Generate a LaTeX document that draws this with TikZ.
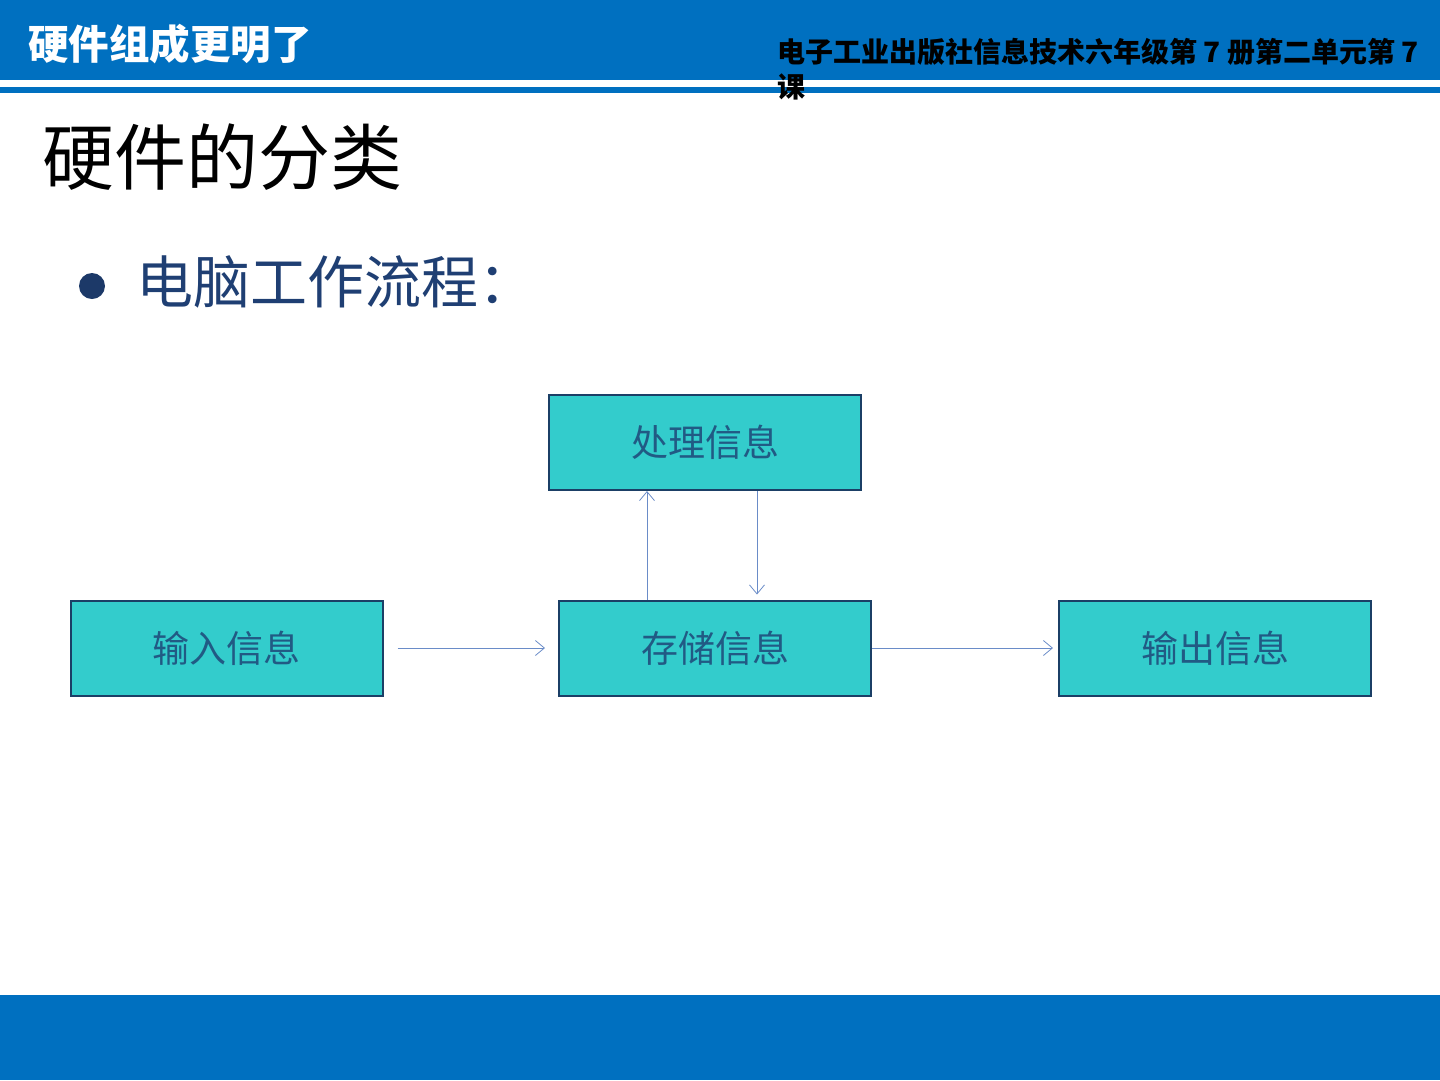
\documentclass[tikz,border=0pt]{standalone}
\usepackage{fontspec}
\usepackage{xcolor}
\usetikzlibrary{arrows.meta,positioning}
\newfontfamily\cjk{Noto Sans CJK SC}
\definecolor{slBlue}{HTML}{0070C0}
\definecolor{boxFill}{HTML}{33CCCC}
\definecolor{boxLine}{HTML}{1B3F66}
\definecolor{boxText}{HTML}{215A84}
\definecolor{bulletText}{HTML}{1F3F73}
\definecolor{flowLine}{HTML}{6A8CC8}

\begin{document}
\begin{tikzpicture}[
  x=1pt,y=-1pt,
  >={Straight Barb[length=9pt,width=15pt]},
  every node/.style={font=\cjk},
  stage/.style={draw=boxLine,line width=2pt,fill=boxFill,minimum width=312pt,
                minimum height=95pt,inner sep=0pt,text=boxText,
                font=\cjk\fontsize{37}{40}\selectfont},
  flow/.style={->,draw=flowLine,line width=0.8pt},
]
  \useasboundingbox (0,0) rectangle (1440,1080);
  % slide frame
  \fill[slBlue] (0,0) rectangle (1440,80);
  \fill[slBlue] (0,87) rectangle (1440,93);
  \fill[slBlue] (0,995) rectangle (1440,1080);

  \node[anchor=west,text=white,font=\cjk\bfseries\fontsize{40.5}{42}\selectfont,inner sep=0pt]
    (head) at (28,44) {硬件组成更明了};
  \node[anchor=north west,align=left,text=black,inner sep=0pt,
        font=\cjk\bfseries\fontsize{28}{35}\selectfont]
    (lesson) at (777,38) {电子工业出版社信息技术六年级第 7 册第二单元第 7\\课};

  \node[anchor=west,text=black,inner sep=0pt,font=\cjk\fontsize{72}{76}\selectfont]
    (title) at (42,157) {硬件的分类};
  \fill[bulletText!90!black] (92,286) circle (13);
  \node[anchor=west,text=bulletText,inner sep=0pt,font=\cjk\fontsize{57}{60}\selectfont]
    (sub) at (136,282) {电脑工作流程：};

  % flow chart
  \node[stage] (proc)  at (705,442.5) {处理信息};
  \node[stage] (in)    at (226.5,648) {输入信息};
  \node[stage] (store) at (715,648)   {存储信息};
  \node[stage] (out)   at (1215,648)  {输出信息};

  \draw[flow,shorten <=14pt,shorten >=13pt] (in) -- (store);
  \draw[flow,shorten >=5pt] (store) -- (out);
  \draw[flow] ([xshift=-68pt]store.north) -- ([xshift=-58pt]proc.south);
  \draw[flow,shorten >=5pt] ([xshift=52pt]proc.south) -- ([xshift=42pt]store.north);
\end{tikzpicture}
\end{document}
